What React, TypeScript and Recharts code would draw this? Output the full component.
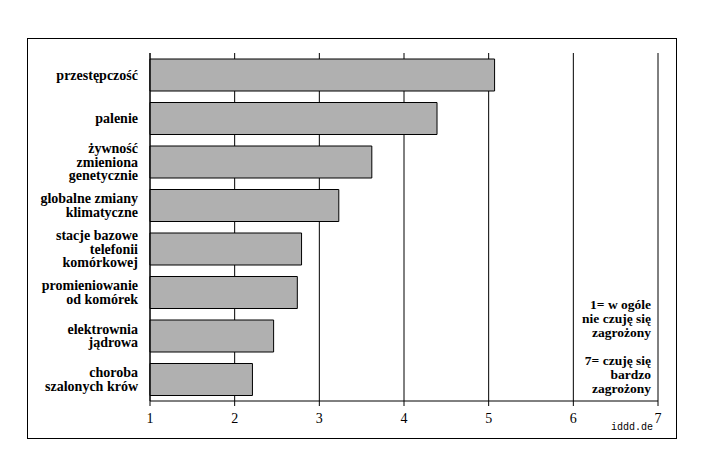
import { Bar, BarChart, CartesianGrid, XAxis, YAxis } from "recharts";

const CATEGORIES = [
  "przestępczość",
  "palenie",
  "żywność\nzmieniona\ngenetycznie",
  "globalne zmiany\nklimatyczne",
  "stacje bazowe\ntelefonii\nkomórkowej",
  "promieniowanie\nod komórek",
  "elektrownia\njądrowa",
  "choroba\nszalonych krów",
];
const SCORES = [5.07, 4.39, 3.62, 3.23, 2.79, 2.74, 2.46, 2.21];
const TICKS = [1, 2, 3, 4, 5, 6, 7];
const NOTE_LINES = ["1= w ogóle", "nie czuję się", "zagrożony", "", "7= czuję się", "bardzo", "zagrożony"];

const rows = CATEGORIES.map((name, i) => ({ name, score: SCORES[i] }));

const SERIF = "'Liberation Serif'";
const LINE = 13.5;

function CategoryTick({ x, y, payload }: any) {
  const lines = String(payload.value).split("\n");
  const first = -((lines.length - 1) * LINE) / 2;
  return (
    <text x={x - 4} y={y} textAnchor="end" style={{ fontFamily: SERIF, fontWeight: 700, fontSize: 14 }} fill="#000">
      {lines.map((line, i) => (
        <tspan key={i} x={x - 4} y={y + first + i * LINE} dy="0.35em">
          {line}
        </tspan>
      ))}
    </text>
  );
}

export default function App() {
  return (
    <div style={{ position: "relative", width: 703, height: 460, fontFamily: SERIF }}>
      {/* outer frame around the whole figure */}
      <div
        style={{
          position: "absolute",
          left: 19,
          top: 30,
          width: 650,
          height: 401,
          border: "1px solid #000",
          boxSizing: "border-box",
        }}
      />
      <BarChart
        width={703}
        height={460}
        data={rows}
        layout="vertical"
        barSize={32}
        margin={{ top: 45, right: 53, bottom: 37, left: 0 }}
      >
        <CartesianGrid horizontal={false} stroke="#000" strokeOpacity={1} />
        <XAxis
          type="number"
          domain={[1, 7]}
          ticks={TICKS}
          height={30}
          stroke="#000"
          tickSize={5}
          tickMargin={7}
          tick={{ fill: "#000", style: { fontFamily: SERIF, fontSize: 14 } }}
        />
        <XAxis xAxisId="top" orientation="top" type="number" domain={[1, 7]} tick={false} tickLine={false} height={0} stroke="#000" />
        <YAxis type="category" dataKey="name" width={142} stroke="#000" tickLine={false} tick={<CategoryTick />} interval={0} />
        <Bar dataKey="score" fill="#b0b0b0" stroke="#000" strokeWidth={1} isAnimationActive={false} />
      </BarChart>
      <div
        style={{
          position: "absolute",
          right: 60,
          top: 290,
          textAlign: "right",
          fontFamily: SERIF,
          fontWeight: 700,
          fontSize: 13.5,
          lineHeight: "14px",
          whiteSpace: "pre",
        }}
      >
        {NOTE_LINES.map((line, i) => (
          <div key={i} style={{ height: 14 }}>
            {line}
          </div>
        ))}
      </div>
      <div
        style={{
          position: "absolute",
          right: 58,
          top: 414,
          fontFamily: "'Liberation Mono'",
          fontSize: 10,
        }}
      >
        iddd.de
      </div>
    </div>
  );
}
